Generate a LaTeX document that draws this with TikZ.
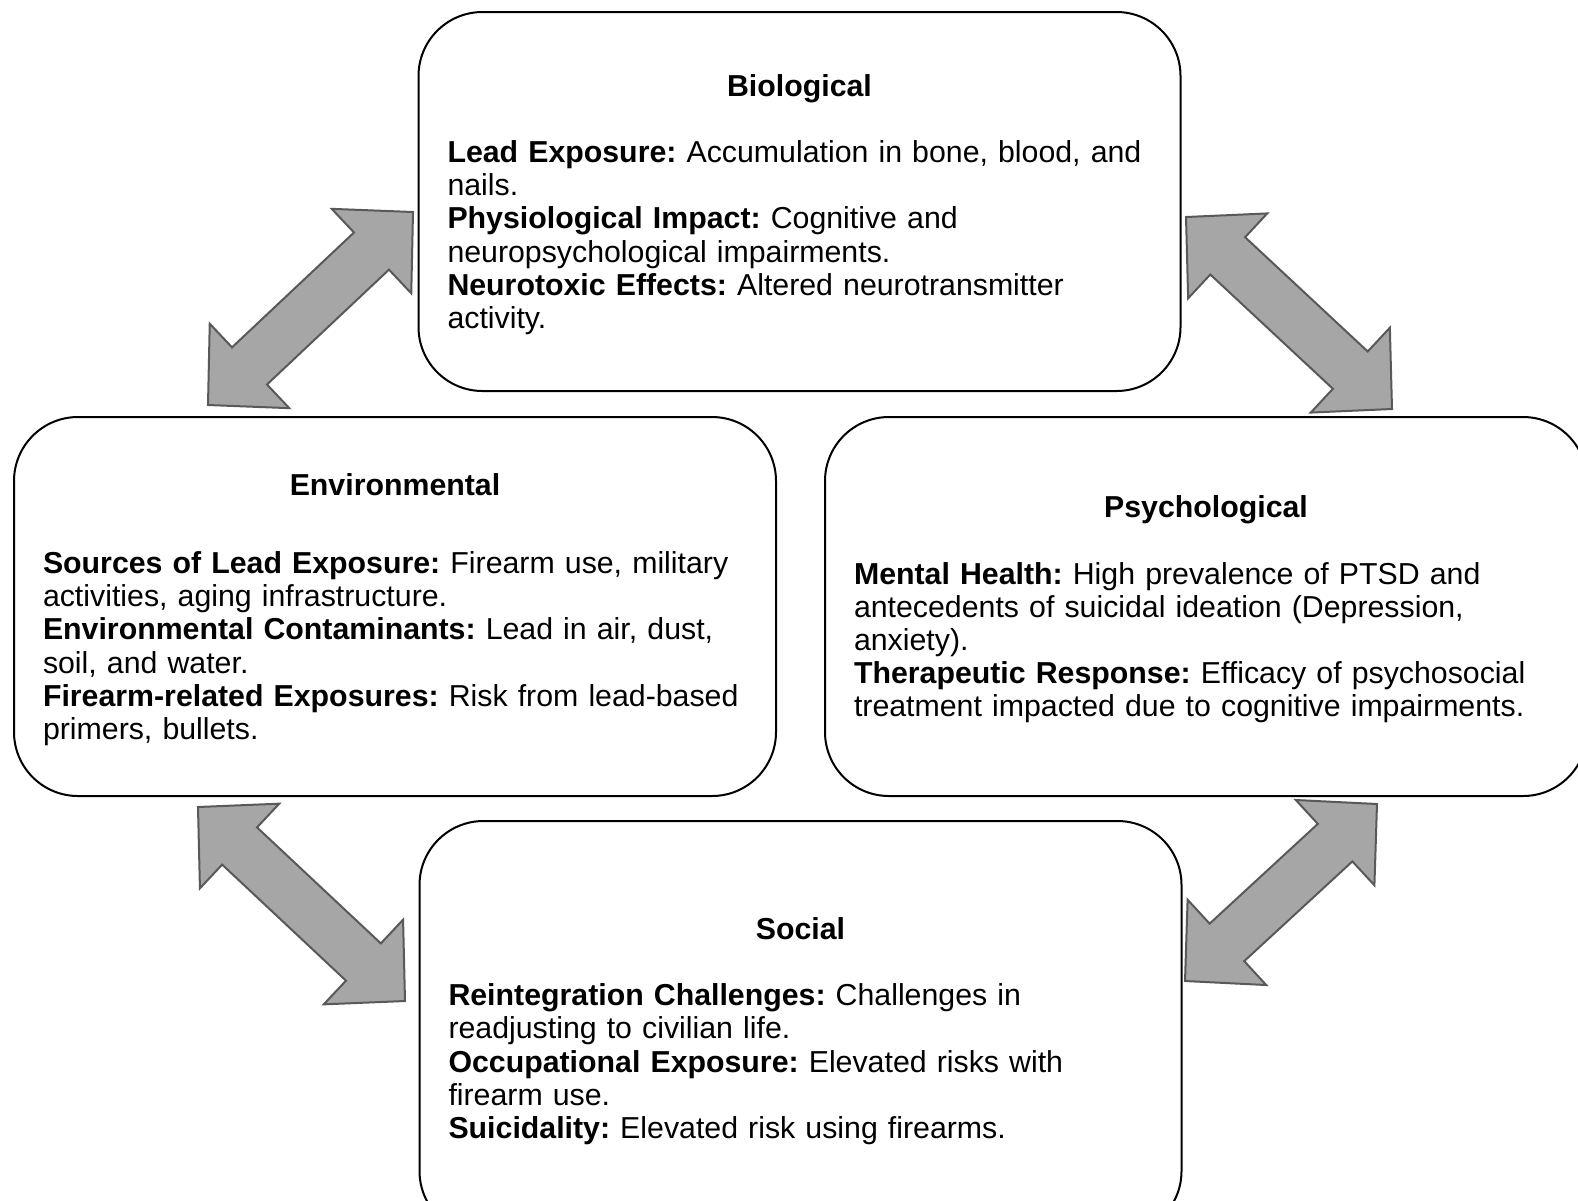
\documentclass[tikz,border=0pt]{standalone}
\usepackage{fontspec}
\setmainfont{Liberation Sans}
\usepackage{xcolor}
\usetikzlibrary{calc,positioning}
\definecolor{arrowfill}{HTML}{A6A6A6}
\definecolor{arrowline}{HTML}{595959}
\tikzset{
  factorbox/.style={draw=black,line width=1pt,rounded corners=32pt,minimum width=381pt,minimum height=189.5pt,text width=352pt,inner sep=0pt,align=left,font=\fontsize{15.15}{16.6}\selectfont\frenchspacing},
  blockarrow/.style={fill=arrowfill,draw=arrowline,line width=1pt,line join=miter}
}
\newcommand{\boxtitle}[2][0pt]{\centerline{\rule{0pt}{14pt}\bfseries #2}\vskip\baselineskip\vskip#1\noindent}
\newcommand{\dblarrow}[2]{%
  \coordinate (#1h) at ($(#1)!28.5pt!(#2)$);
  \coordinate (#2h) at ($(#2)!28.5pt!(#1)$);
  \draw[blockarrow] (#1) -- ($(#1h)!29pt!90:(#1)$) -- ($(#1h)!12.75pt!90:(#1)$)
    -- ($(#2h)!12.75pt!-90:(#2)$) -- ($(#2h)!29pt!-90:(#2)$) -- (#2)
    -- ($(#2h)!29pt!90:(#2)$) -- ($(#2h)!12.75pt!90:(#2)$)
    -- ($(#1h)!12.75pt!-90:(#1)$) -- ($(#1h)!29pt!-90:(#1)$) -- cycle;
}

\begin{document}
\begin{tikzpicture}[x=0.5pt,y=-0.5pt]
  \useasboundingbox[fill=white] (0,0) rectangle (1578,1200);
  \node[factorbox] (bio) at (799.5,201.5) {\boxtitle{Biological}%
    \textbf{Lead Exposure:} Accumulation in bone, blood, and\\
    nails.\\
    \textbf{Physiological Impact:} Cognitive and\\
    neuropsychological impairments.\\
    \textbf{Neurotoxic Effects:} Altered neurotransmitter\\
    activity.};
  \node[factorbox] (env) at (395,606.5) {\boxtitle[6pt]{Environmental}%
    \textbf{Sources of Lead Exposure:} Firearm use, military\\
    activities, aging infrastructure.\\
    \textbf{Environmental Contaminants:} Lead in air, dust,\\
    soil, and water.\\
    \textbf{Firearm-related Exposures:} Risk from lead-based\\
    primers, bullets.};
  \node[factorbox] (psy) at (1206,606.5) {\boxtitle{Psychological}%
    \textbf{Mental Health:} High prevalence of PTSD and\\
    antecedents of suicidal ideation (Depression,\\
    anxiety).\\
    \textbf{Therapeutic Response:} Efficacy of psychosocial\\
    treatment impacted due to cognitive impairments.};
  \node[factorbox,minimum height=207pt] (soc) at (800.5,1028) {\boxtitle{Social}%
    \textbf{Reintegration Challenges:} Challenges in\\
    readjusting to civilian life.\\
    \textbf{Occupational Exposure:} Elevated risks with\\
    firearm use.\\
    \textbf{Suicidality:} Elevated risk using firearms.};
  % arrow ends
  \coordinate (eb-e) at (208,405);
  \coordinate (eb-b) at (413,212);
  \coordinate (bp-b) at (1186,217);
  \coordinate (bp-p) at (1392,409);
  \coordinate (es-e) at (198,807);
  \coordinate (es-s) at (405,1001);
  \coordinate (ps-p) at (1377,804);
  \coordinate (ps-s) at (1185,981);
  \dblarrow{eb-e}{eb-b}
  \dblarrow{bp-b}{bp-p}
  \dblarrow{es-e}{es-s}
  \dblarrow{ps-p}{ps-s}
\end{tikzpicture}
\end{document}
